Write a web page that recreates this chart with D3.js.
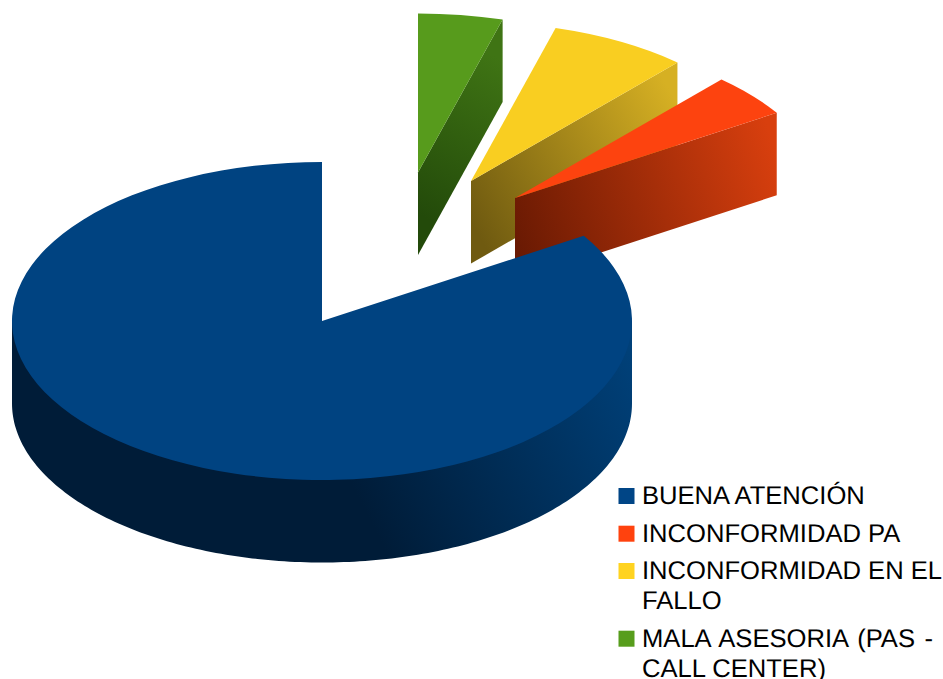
<!DOCTYPE html>
<html>
<head>
<meta charset="utf-8">
<script src="https://cdn.jsdelivr.net/npm/d3@7"></script>
<style>
html,body{margin:0;padding:0;background:#fff}
svg{display:block}
text{font-family:"Liberation Sans",sans-serif;font-size:25.6px;fill:#000;text-rendering:geometricPrecision}
</style>
</head>
<body>
<svg id="chart" width="943" height="679"></svg>
<script>
// Share of each response category, in percent
const categories = ["BUENA ATENCIÓN", "INCONFORMIDAD PA", "INCONFORMIDAD EN EL FALLO", "MALA ASESORIA (PAS - CALL CENTER)"];
const shares = [84, 4.4, 7.2, 4.4];
const legendLines = [["BUENA ATENCIÓN"], ["INCONFORMIDAD PA"], ["INCONFORMIDAD EN EL", "FALLO"], ["MALA ASESORIA (PAS -", "CALL CENTER)"]];
const topColors = ["#004586", "#ff420e", "#ffd320", "#579d1c"];
const faceColors = ["#004381", "#fd430f", "#f9ce21", "#579b1c"];
const wallStops = [
  ["#001c38", "#00417a"],
  ["#6a1a03", "#d83f0e"],
  ["#6f5a10", "#d6b023"],
  ["#234a0a", "#3f7414"]
];
const explodeOffsets = [[0, 0], [193, -123], [149, -140], [96, -148.5]];

const cx = 322, cy = 321, rx = 310, ry = 159, depth = 82.5;

const svg = d3.select("#chart");
const defs = svg.append("defs");

// Slices run counter-clockwise from twelve o'clock
const slices = d3.pie().sort(null).startAngle(0).endAngle(-2 * Math.PI)(shares);
const rim = d3.arc().innerRadius(0).outerRadius(rx);
const point = (a, o, k = 1) => [cx + o[0] + k * rx * Math.sin(a), cy + o[1] - k * ry * Math.cos(a)];

function addGradient(id, stops, x1, y1, x2, y2) {
  const g = defs.append("linearGradient").attr("id", id)
    .attr("gradientUnits", "userSpaceOnUse")
    .attr("x1", x1).attr("y1", y1).attr("x2", x2).attr("y2", y2);
  stops.forEach(([off, col]) => g.append("stop").attr("offset", off).attr("stop-color", col));
}

// Exploded wedges, back to front, each with the cut face that shows below its right edge
[3, 2, 1].forEach(i => {
  const s = slices[i], o = explodeOffsets[i];
  const outer = point(Math.max(s.startAngle, s.endAngle), o);
  const apex = [cx + o[0], cy + o[1]];
  addGradient("wall" + i, [[0, wallStops[i][0]], [1, wallStops[i][1]]],
    apex[0], apex[1] + depth / 2, outer[0], outer[1] + depth / 2);
  svg.append("path")
    .attr("d", d3.line()([apex, outer, [outer[0], outer[1] + depth], [apex[0], apex[1] + depth]]) + "Z")
    .attr("fill", `url(#wall${i})`);
  svg.append("path")
    .attr("transform", `translate(${apex[0]},${apex[1]}) scale(1,${ry / rx})`)
    .attr("d", rim(s))
    .attr("fill", faceColors[i]);
});

// Main slice: visible lower rim, then its top face
const main = slices[0];
addGradient("wall0", [[0, wallStops[0][0]], [0.35, wallStops[0][0]], [1, wallStops[0][1]]], 200, 560, 632, 340);
const sweep = d3.range(90, 270.5, 1).map(d => d * Math.PI / 180);
const bottomEdge = sweep.map(a => point(a, [0, depth]));
const underFace = sweep.map(a => point(a, [0, 0], 0.985));
const wall = [point(sweep[0], [0, 0]), ...underFace, point(sweep[sweep.length - 1], [0, 0]), ...bottomEdge.reverse()];
svg.append("path").attr("d", d3.line()(wall) + "Z").attr("fill", "url(#wall0)");
svg.append("path")
  .attr("transform", `translate(${cx},${cy}) scale(1,${ry / rx})`)
  .attr("d", rim(main))
  .attr("fill", faceColors[0]);

// Legend
const legendRows = [496, 533.7, 571, 638.7];
const legend = svg.append("g");
categories.forEach((c, i) => {
  legend.append("rect").attr("x", 618.5).attr("y", legendRows[i] - 8).attr("width", 16).attr("height", 16)
    .attr("fill", topColors[i]);
  legendLines[i].forEach((line, k) => {
    legend.append("text").attr("x", 642).attr("y", legendRows[i] + 8.4 + k * 30)
      .attr("word-spacing", line.includes("(PAS") ? 2.3 : null)
      .text(line);
  });
});
</script>
</body>
</html>
